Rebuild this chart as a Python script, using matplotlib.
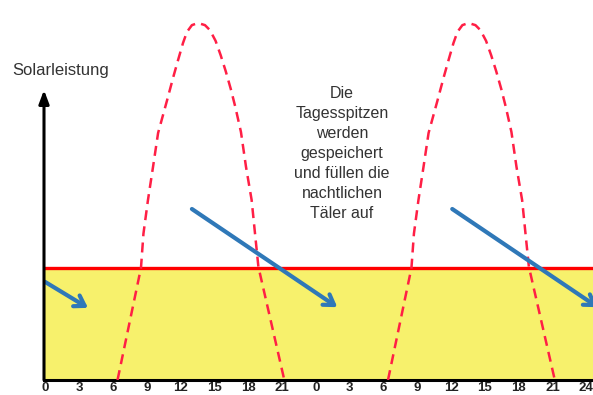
import matplotlib
matplotlib.use("Agg")
import matplotlib.pyplot as plt
import numpy as np

# ---- data ----
# one day of solar power (hour, relative power; peak = 100)
day_hours = [6.4, 8.48, 8.7, 9.1, 9.55, 10.0, 10.8, 11.35, 11.77, 12.21, 12.56,
             13.0, 13.54, 14.16, 14.6, 15.1, 15.55, 16.0, 16.45, 16.85, 17.35,
             17.8, 18.3, 18.6, 18.9, 21.2]
day_power = [0, 31.4, 41, 50.4, 59.7, 69.2, 78.4, 84.9, 89.6, 94.4, 97.5,
             99.4, 100, 99.4, 98, 95.0, 91.0, 86.5, 81.5, 76.5, 69.5,
             59.7, 50.4, 41, 31.7, 0]
day_offsets = [0, 24]
storage_level = 31.4

tick_positions = list(range(0, 49, 3))
tick_labels = ["0", "3", "6", "9", "12", "15", "18", "21",
               "0", "3", "6", "9", "12", "15", "18", "21", "24"]

# blue arrows (start -> end), in hours / power units
arrow_starts = [(-0.04, 27.5), (13.0, 47.9), (36.1, 47.9)]
arrow_ends = [(3.78, 20.2), (25.9, 20.4), (49.0, 20.4)]

note_text = ("Die\nTagesspitzen\nwerden\ngespeichert\nund füllen die\n"
             "nachtlichen\nTäler auf")

plt.rcParams['font.family'] = ['Liberation Sans', 'DejaVu Sans']

W, H = 593, 395
fig = plt.figure(figsize=(W / 100, H / 100), dpi=100)
ax_left, ax_bottom = 44, 380
ax = fig.add_axes([ax_left / W, (H - ax_bottom) / H, (W - ax_left) / W, ax_bottom / H])

px_per_hour = 11.27
x0_px = 45.4
xmin = (ax_left - x0_px) / px_per_hour
xmax = (W - x0_px) / px_per_hour
ymax = ax_bottom / 357 * 100
ax.set_xlim(xmin, xmax)
ax.set_ylim(0, ymax)

# storage area
ax.fill_between([xmin, xmax], 0, storage_level, color='#f7f16c', zorder=1, lw=0)
ax.axhline(storage_level, color='#ff0000', lw=2.4, zorder=3)

# daily curves
for off in day_offsets:
    ax.plot(np.array(day_hours) + off, day_power, color='#ff1f45', lw=1.8,
            ls=(0, (4, 2.5)), zorder=4, solid_joinstyle='round')

# blue arrows
for (sx, sy), (ex, ey) in zip(arrow_starts, arrow_ends):
    ax.annotate('', xy=(ex, ey), xytext=(sx, sy),
                arrowprops=dict(arrowstyle='->,head_length=0.7,head_width=0.45',
                                color='#2f78b8', lw=3, shrinkA=0, shrinkB=0),
                zorder=5, annotation_clip=False)

# spines / axes
for s in ['top', 'right', 'left']:
    ax.spines[s].set_visible(False)
ax.spines['bottom'].set_linewidth(2.2)
ax.spines['bottom'].set_color('black')
ax.set_yticks([])
ax.set_xticks(tick_positions)
ax.set_xticklabels(tick_labels, fontsize=9.5, fontweight='bold', color='#222222')
ax.tick_params(axis='x', length=0, pad=1.5)

# y-axis arrow
ytip = (ax_bottom - 90) / 357 * 100
ax.annotate('', xy=(xmin, ytip), xytext=(xmin, 0),
            arrowprops=dict(arrowstyle='-|>,head_length=0.8,head_width=0.3',
                            color='black', lw=2.2, shrinkA=0, shrinkB=0),
            annotation_clip=False, zorder=6)

fig.text(12 / W, 1 - 70 / H, 'Solarleistung', fontsize=12, color='#333333',
         ha='left', va='center')

fig.text(342 / W, 1 - 86 / H, note_text, fontsize=11.5, color='#333333',
         ha='center', va='top', linespacing=1.42)

fig.savefig('out.png', dpi=100)
